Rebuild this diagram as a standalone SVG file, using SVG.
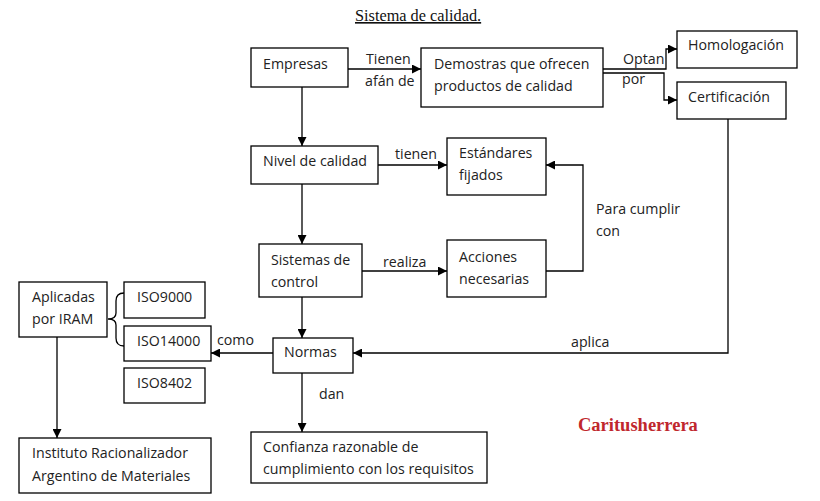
<svg xmlns="http://www.w3.org/2000/svg" width="820" height="501" viewBox="0 0 820 501">
<style>
.box{fill:#fff;stroke:#000;stroke-width:1.3}
.t{font-family:"Open Sans","Noto Sans","DejaVu Sans",sans-serif;font-size:14.2px;fill:#222}
.c{fill:none;stroke:#000;stroke-width:1.3}
</style>
<defs>
<marker id="ah" markerUnits="userSpaceOnUse" markerWidth="9" markerHeight="9" refX="9" refY="4.5" orient="auto">
<path d="M0,0 L9,4.5 L0,9 z" fill="#000"/>
</marker>
</defs>
<rect width="820" height="501" fill="#fff"/>
<text x="355" y="21" font-family="'Liberation Serif',serif" font-size="16.3" text-decoration="underline" fill="#111">Sistema de calidad.</text>

<g id="connectors">
<path class="c" d="M348,69 H421" marker-end="url(#ah)"/>
<path class="c" d="M603,69 H666 V49 H677" marker-end="url(#ah)"/>
<path class="c" d="M603,73 H664 V100 H677" marker-end="url(#ah)"/>
<path class="c" d="M302,87 V146" marker-end="url(#ah)"/>
<path class="c" d="M378,165 H447" marker-end="url(#ah)"/>
<path class="c" d="M302,184 V244" marker-end="url(#ah)"/>
<path class="c" d="M362,271 H447" marker-end="url(#ah)"/>
<path class="c" d="M546,271 H583 V165 H546" marker-end="url(#ah)"/>
<path class="c" d="M302,297 V338" marker-end="url(#ah)"/>
<path class="c" d="M728,119 V353 H353" marker-end="url(#ah)"/>
<path class="c" d="M273,353 H211" marker-end="url(#ah)"/>
<path class="c" d="M302,373 V432" marker-end="url(#ah)"/>
<path class="c" d="M57,337 V438" marker-end="url(#ah)"/>
<path class="c" d="M124,293 Q116,293 116,301 V313 Q116,319 108,319 Q116,319 116,325 V338 Q116,346 124,346"/>
<text class="t" x="366" y="64">Tienen</text>
<text class="t" x="365" y="86">afán de</text>
<text class="t" x="623" y="64">Optan</text>
<text class="t" x="622" y="84">por</text>
<text class="t" x="395" y="159">tienen</text>
<text class="t" x="383" y="267">realiza</text>
<text class="t" x="596" y="214">Para cumplir</text>
<text class="t" x="596" y="236">con</text>
<text class="t" x="571" y="347">aplica</text>
<text class="t" x="217" y="345">como</text>
<text class="t" x="319" y="399">dan</text>
</g>

<g id="empresas"><rect class="box" x="251" y="48" width="97" height="39"/><text class="t" x="263" y="69">Empresas</text></g>
<g id="demostras"><rect class="box" x="421" y="48" width="182" height="59"/><text class="t" x="434" y="69">Demostras que ofrecen</text><text class="t" x="434" y="91">productos de calidad</text></g>
<g id="homologacion"><rect class="box" x="677" y="31" width="120" height="37"/><text class="t" x="688" y="50">Homologación</text></g>
<g id="certificacion"><rect class="box" x="677" y="82" width="109" height="37"/><text class="t" x="688" y="102">Certificación</text></g>
<g id="nivel"><rect class="box" x="251" y="146" width="127" height="38"/><text class="t" x="263" y="166">Nivel de calidad</text></g>
<g id="estandares"><rect class="box" x="447" y="138" width="99" height="57"/><text class="t" x="459" y="158">Estándares</text><text class="t" x="459" y="180">fijados</text></g>
<g id="sistemas"><rect class="box" x="259" y="244" width="103" height="53"/><text class="t" x="271" y="265">Sistemas de</text><text class="t" x="271" y="287">control</text></g>
<g id="acciones"><rect class="box" x="447" y="240" width="99" height="57"/><text class="t" x="459" y="262">Acciones</text><text class="t" x="459" y="284">necesarias</text></g>
<g id="normas"><rect class="box" x="273" y="338" width="80" height="35"/><text class="t" x="284" y="357">Normas</text></g>
<g id="aplicadas"><rect class="box" x="19" y="282" width="88" height="55"/><text class="t" x="32" y="302">Aplicadas</text><text class="t" x="32" y="324">por IRAM</text></g>
<g id="iso9000"><rect class="box" x="124" y="282" width="81" height="36"/><text class="t" x="137" y="302">ISO9000</text></g>
<g id="iso14000"><rect class="box" x="124" y="326" width="87" height="35"/><text class="t" x="137" y="346">ISO14000</text></g>
<g id="iso8402"><rect class="box" x="124" y="368" width="81" height="35"/><text class="t" x="137" y="388">ISO8402</text></g>
<g id="instituto"><rect class="box" x="19" y="438" width="192" height="55"/><text class="t" x="32" y="458">Instituto Racionalizador</text><text class="t" x="32" y="481">Argentino de Materiales</text></g>
<g id="confianza"><rect class="box" x="251" y="432" width="236" height="51"/><text class="t" x="263" y="452">Confianza razonable de</text><text class="t" x="263" y="474">cumplimiento con los requisitos</text></g>

<text x="578" y="431" font-family="'Liberation Serif',serif" font-size="18.5" font-weight="bold" fill="#c0272d">Caritusherrera</text>
</svg>
